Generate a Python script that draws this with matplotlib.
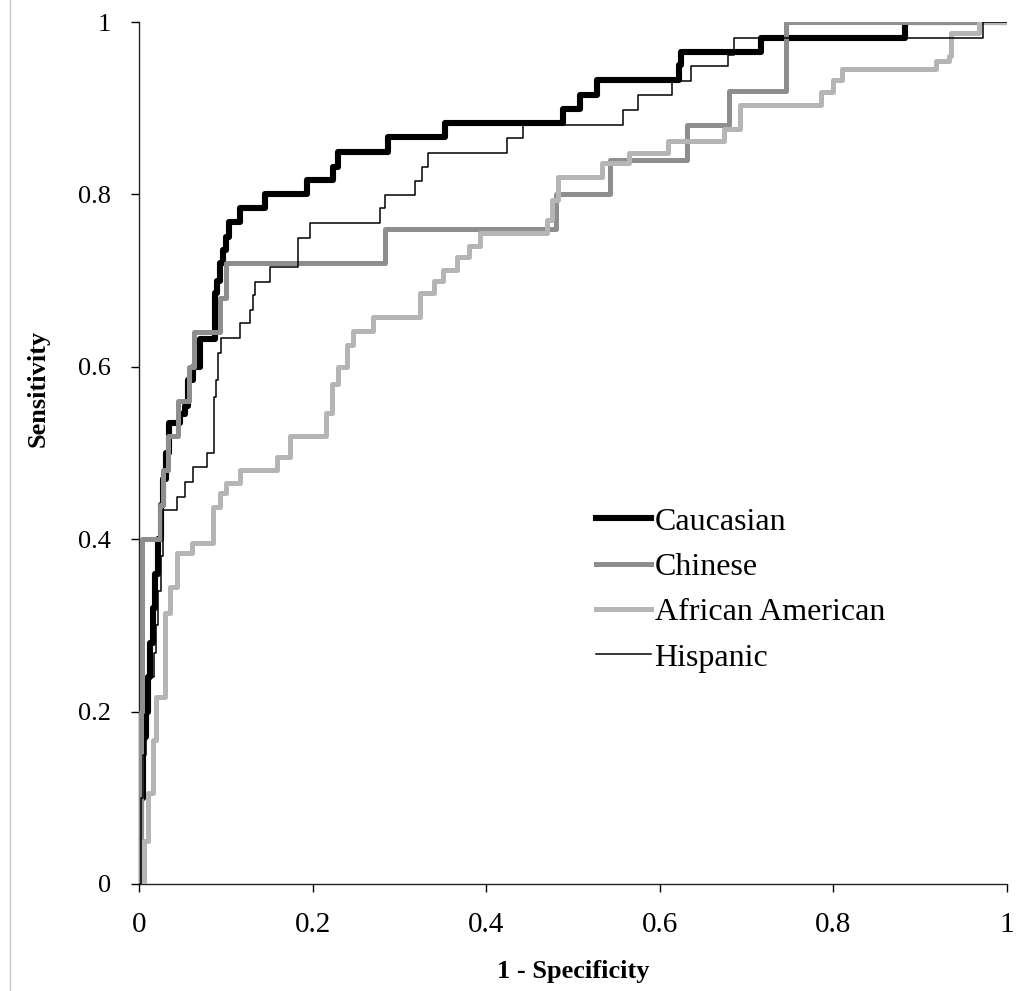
import matplotlib
matplotlib.use("Agg")
import matplotlib.pyplot as plt
from matplotlib.lines import Line2D

# ROC step curves (1 - specificity, sensitivity)
caucasian_x = [0, 0.002, 0.005, 0.008, 0.01, 0.013, 0.016, 0.019, 0.022, 0.025, 0.028,
               0.031, 0.035, 0.047, 0.053, 0.056, 0.062, 0.07, 0.087, 0.09, 0.093, 0.097,
               0.1, 0.104, 0.116, 0.145, 0.193, 0.224, 0.229, 0.287, 0.353, 0.489, 0.508,
               0.528, 0.622, 0.625, 0.717, 0.882, 1.0]
caucasian_y = [0, 0.1, 0.17, 0.2, 0.24, 0.28, 0.32, 0.36, 0.4, 0.44, 0.47,
               0.5, 0.535, 0.545, 0.555, 0.585, 0.6, 0.632, 0.686, 0.70, 0.72, 0.735,
               0.75, 0.768, 0.784, 0.801, 0.817, 0.832, 0.849, 0.867, 0.883, 0.899, 0.915,
               0.933, 0.95, 0.965, 0.982, 1.0, 1.0]

chinese_x = [0, 0.002, 0.004, 0.024, 0.028, 0.034, 0.045, 0.058, 0.063, 0.093, 0.1,
             0.283, 0.481, 0.543, 0.631, 0.68, 0.745, 1.0]
chinese_y = [0, 0.2, 0.4, 0.44, 0.48, 0.52, 0.56, 0.6, 0.64, 0.68, 0.72,
             0.76, 0.80, 0.84, 0.88, 0.92, 1.0, 1.0]

african_x = [0, 0.006, 0.01, 0.016, 0.02, 0.03, 0.036, 0.044, 0.061, 0.085, 0.093, 0.1,
             0.116, 0.159, 0.174, 0.216, 0.222, 0.229, 0.24, 0.247, 0.27, 0.324, 0.34,
             0.35, 0.366, 0.38, 0.393, 0.47, 0.476, 0.483, 0.533, 0.564, 0.61, 0.674,
             0.693, 0.786, 0.8, 0.81, 0.918, 0.933, 0.935, 0.968, 1.0]
african_y = [0, 0.05, 0.105, 0.167, 0.217, 0.314, 0.345, 0.384, 0.396, 0.437, 0.453, 0.465,
             0.48, 0.495, 0.52, 0.546, 0.58, 0.6, 0.625, 0.642, 0.658, 0.686, 0.70,
             0.712, 0.727, 0.74, 0.755, 0.770, 0.793, 0.82, 0.836, 0.848, 0.862, 0.876,
             0.904, 0.919, 0.933, 0.946, 0.955, 0.96, 0.987, 1.0, 1.0]

hispanic_x = [0, 0.002, 0.005, 0.008, 0.012, 0.017, 0.02, 0.022, 0.025, 0.028, 0.044,
              0.053, 0.062, 0.078, 0.086, 0.089, 0.091, 0.095, 0.116, 0.128, 0.131, 0.134,
              0.151, 0.183, 0.197, 0.278, 0.283, 0.318, 0.326, 0.333, 0.424, 0.443, 0.558,
              0.575, 0.614, 0.636, 0.679, 0.685, 0.972, 1.0]
hispanic_y = [0, 0.1, 0.15, 0.2, 0.24, 0.268, 0.3, 0.34, 0.38, 0.434, 0.449,
              0.466, 0.484, 0.50, 0.565, 0.585, 0.616, 0.633, 0.651, 0.666, 0.683, 0.698,
              0.716, 0.749, 0.767, 0.784, 0.799, 0.815, 0.832, 0.848, 0.865, 0.880, 0.898,
              0.915, 0.932, 0.949, 0.962, 0.982, 1.0, 1.0]

ticks = [0, 0.2, 0.4, 0.6, 0.8, 1]
tick_labels = ["0", "0.2", "0.4", "0.6", "0.8", "1"]

plt.rcParams["font.family"] = ["Liberation Serif", "DejaVu Serif"]

fig = plt.figure(figsize=(10.16, 9.91), dpi=100)
ax = fig.add_axes([0.1368, 0.108, 0.8543, 0.8698])

ax.plot(caucasian_x, caucasian_y, drawstyle="steps-post", color="black", lw=4.4,
        label="Caucasian", zorder=2)
ax.plot(chinese_x, chinese_y, drawstyle="steps-post", color="#8e8e8e", lw=3.6,
        label="Chinese", zorder=3)
ax.plot(african_x, african_y, drawstyle="steps-post", color="#b5b5b5", lw=3.6,
        label="African American", zorder=4)
ax.plot(hispanic_x, hispanic_y, drawstyle="steps-post", color="black", lw=1.1,
        label="Hispanic", zorder=5)

ax.set_xlim(0, 1)
ax.set_ylim(0, 1)
ax.set_xticks(ticks)
ax.set_xticklabels(tick_labels)
ax.set_yticks(ticks)
ax.set_yticklabels(tick_labels)
ax.tick_params(direction="out", length=6, width=1, colors="black")
ax.tick_params(axis="x", pad=14, labelsize=21)
ax.tick_params(axis="y", pad=14, labelsize=19)
for side in ["top", "right"]:
    ax.spines[side].set_visible(False)
for side in ["left", "bottom"]:
    ax.spines[side].set_linewidth(1)
    ax.spines[side].set_color("#222222")

ax.set_xlabel("1 - Specificity", fontsize=19, fontweight="bold", labelpad=16)
ax.set_ylabel("Sensitivity", fontsize=19, fontweight="bold")
ax.yaxis.set_label_coords(-0.103, 0.575)

ax.legend(loc="upper left", bbox_to_anchor=(0.527, 0.437), frameon=False, fontsize=23,
          handlelength=1.72, handletextpad=0.1, labelspacing=0.5, borderpad=0,
          borderaxespad=0)

fig.add_artist(Line2D([0.0098, 0.0098], [0, 1], color="#c8c8c8", lw=1,
                      transform=fig.transFigure))

fig.savefig("out.png", dpi=100, facecolor="white")
